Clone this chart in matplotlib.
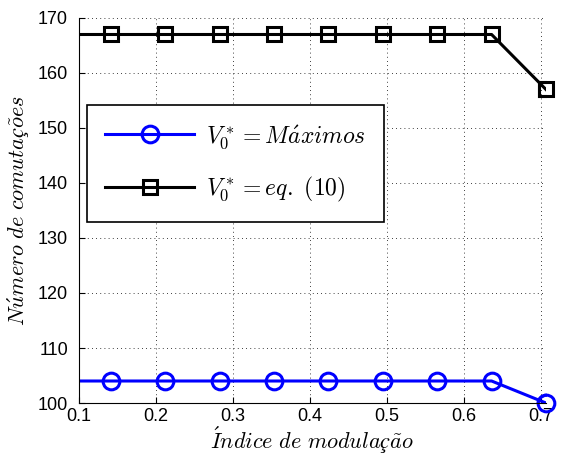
import numpy as np
import matplotlib
matplotlib.use("Agg")
import matplotlib.pyplot as plt

# indice de modulacao (k * sqrt(2)/20), first point lies left of the axis
indice = [0.0707, 0.1414, 0.2121, 0.2828, 0.3536, 0.4243, 0.4950, 0.5657, 0.6364, 0.7071]
com_maximos = [104, 104, 104, 104, 104, 104, 104, 104, 104, 100]
com_eq10 = [167, 167, 167, 167, 167, 167, 167, 167, 167, 157]

plt.rcParams['font.family'] = ['Liberation Sans', 'DejaVu Sans']
plt.rcParams['mathtext.fontset'] = 'cm'
plt.rcParams['mathtext.fallback'] = 'stix'

fig = plt.figure(figsize=(5.62, 4.59), dpi=100)
ax = fig.add_axes([0.1406, 0.122, 0.8309, 0.8388])

l1, = ax.plot(indice, com_maximos, '-o', color='blue', lw=2.2, ms=12, mew=2.2,
              mfc='none', markevery=slice(1, None), label=r'$V_0^* = M\acute{a}ximos$')
l2, = ax.plot(indice, com_eq10, '-s', color='black', lw=2.2, ms=10, mew=2.2,
              mfc='none', markevery=slice(1, None), label=r'$V_0^* = eq.\ (10)$')
# last markers sit on the right edge, keep them whole
ax.plot(indice[-1:], com_maximos[-1:], 'o', color='blue', ms=12, mew=2.2, mfc='none', clip_on=False)
ax.plot(indice[-1:], com_eq10[-1:], 's', color='black', ms=10, mew=2.2, mfc='none', clip_on=False)

ax.set_xlim(0.1, indice[-1])
ax.set_ylim(100, 170)
ax.set_xticks([0.1, 0.2, 0.3, 0.4, 0.5, 0.6, 0.7])
ax.set_yticks(range(100, 171, 10))
ax.tick_params(direction='in', length=4, labelsize=13, width=0.8)
ax.tick_params(axis='y', pad=8)
ax.grid(True, linestyle=(0, (1, 4)), color='black', lw=0.6)
ax.spines['top'].set_visible(False)
ax.spines['right'].set_visible(False)

ax.set_xlabel(r'$\acute{I}ndice\ de\ modulaç\tilde{a}o$', fontsize=16, labelpad=0)
ax.set_ylabel(r'$N\acute{u}mero\ de\ comutaç\tilde{o}es$', fontsize=16, labelpad=4)

leg = ax.legend(loc='upper left', bbox_to_anchor=(0.017, 0.774), fontsize=17,
                handlelength=3.8, borderpad=0.75, labelspacing=1.03, handletextpad=0.5,
                borderaxespad=0, fancybox=False, framealpha=1, edgecolor='black')
leg.get_frame().set_linewidth(1.2)

fig.savefig('out.png', dpi=100)
